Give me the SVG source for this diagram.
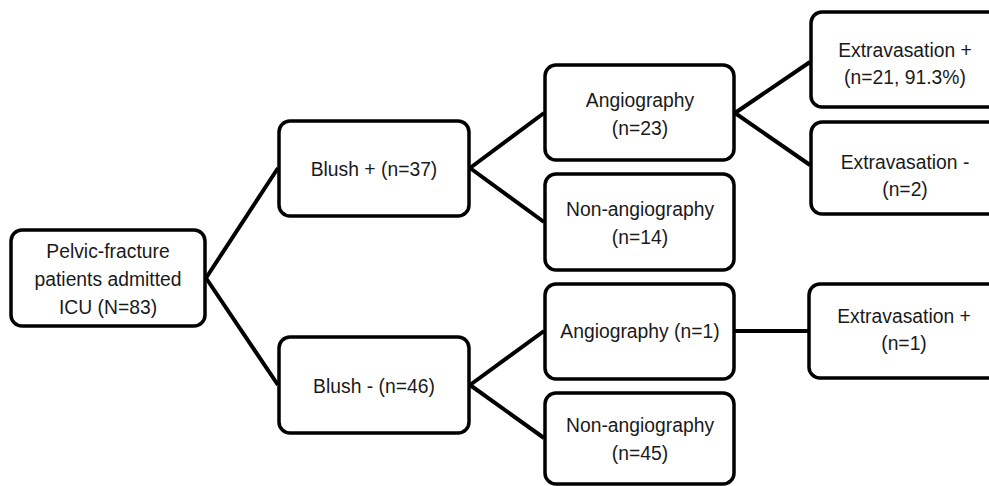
<svg xmlns="http://www.w3.org/2000/svg" width="989" height="486" viewBox="0 0 989 486">
<style>
.box{fill:#fff;stroke:#000;stroke-width:3.5}
.t{font-family:"Liberation Sans",Arial,sans-serif;font-size:21px;fill:#1a1a1a;text-anchor:middle}
.c{fill:none;stroke:#000;stroke-width:4;stroke-linejoin:round}
</style>
<rect width="989" height="486" fill="#fff"/>
<g id="connectors">
<polyline class="c" points="278,168 206,278 278,385"/>
<polyline class="c" points="544,113 470,168 544,222"/>
<polyline class="c" points="544,331 470,385 544,438"/>
<polyline class="c" points="810,62 735,113 810,165"/>
<line class="c" x1="735" y1="331" x2="808" y2="331"/>
</g>
<g id="root">
<rect class="box" x="11" y="230" width="194" height="96" rx="11"/>
<text class="t" transform="translate(108,258) scale(0.92,1)">Pelvic-fracture</text>
<text class="t" transform="translate(108,286) scale(0.92,1)">patients admitted</text>
<text class="t" transform="translate(108,314) scale(0.92,1)">ICU (N=83)</text>
</g>
<g id="blush-pos">
<rect class="box" x="279" y="121" width="190" height="95" rx="11"/>
<text class="t" transform="translate(374,176) scale(0.92,1)">Blush + (n=37)</text>
</g>
<g id="blush-neg">
<rect class="box" x="279" y="337" width="190" height="96" rx="11"/>
<text class="t" transform="translate(374,393) scale(0.92,1)">Blush - (n=46)</text>
</g>
<g id="angio-23">
<rect class="box" x="545" y="65" width="189" height="95" rx="11"/>
<text class="t" transform="translate(640,107) scale(0.92,1)">Angiography</text>
<text class="t" transform="translate(640,135) scale(0.92,1)">(n=23)</text>
</g>
<g id="nonangio-14">
<rect class="box" x="545" y="174" width="189" height="96" rx="11"/>
<text class="t" transform="translate(640,216) scale(0.92,1)">Non-angiography</text>
<text class="t" transform="translate(640,244) scale(0.92,1)">(n=14)</text>
</g>
<g id="angio-1">
<rect class="box" x="545" y="284" width="189" height="95" rx="11"/>
<text class="t" transform="translate(640,338) scale(0.92,1)">Angiography (n=1)</text>
</g>
<g id="nonangio-45">
<rect class="box" x="545" y="393" width="189" height="91" rx="11"/>
<text class="t" transform="translate(640,432) scale(0.92,1)">Non-angiography</text>
<text class="t" transform="translate(640,460) scale(0.92,1)">(n=45)</text>
</g>
<g id="extra-pos-21">
<rect class="box" x="811" y="12" width="190" height="95" rx="11"/>
<text class="t" transform="translate(905,57) scale(0.92,1)">Extravasation +</text>
<text class="t" transform="translate(905,84) scale(0.92,1)">(n=21, 91.3%)</text>
</g>
<g id="extra-neg-2">
<rect class="box" x="811" y="122" width="190" height="92" rx="11"/>
<text class="t" transform="translate(905,169) scale(0.92,1)">Extravasation -</text>
<text class="t" transform="translate(905,196) scale(0.92,1)">(n=2)</text>
</g>
<g id="extra-pos-1">
<rect class="box" x="809" y="284" width="190" height="94" rx="11"/>
<text class="t" transform="translate(904,323) scale(0.92,1)">Extravasation +</text>
<text class="t" transform="translate(904,350) scale(0.92,1)">(n=1)</text>
</g>
</svg>
